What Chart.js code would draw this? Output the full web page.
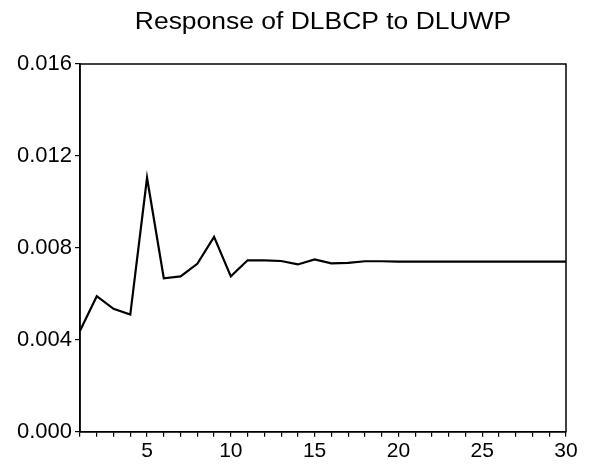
<!DOCTYPE html>
<html>
<head>
<meta charset="utf-8">
<script src="https://cdn.jsdelivr.net/npm/chart.js@4/dist/chart.umd.min.js"></script>
<style>
  html, body { margin: 0; padding: 0; background: #ffffff; }
  #wrap { width: 590px; height: 468px; }
</style>
</head>
<body>
<div id="wrap"><canvas id="c" width="590" height="468"></canvas></div>
<script>
// Impulse response of DLBCP to a shock in DLUWP, periods 1..30
const periods = [1,2,3,4,5,6,7,8,9,10,11,12,13,14,15,16,17,18,19,20,21,22,23,24,25,26,27,28,29,30];
const response = [0.0044, 0.0059, 0.00535, 0.0051, 0.01105, 0.00668, 0.00676, 0.00731, 0.00848, 0.00676,
                  0.00746, 0.00746, 0.00743, 0.00728, 0.0075, 0.00733, 0.00735, 0.00742, 0.00742, 0.0074,
                  0.0074, 0.0074, 0.0074, 0.0074, 0.0074, 0.0074, 0.0074, 0.0074, 0.0074, 0.0074];
const xLabels = [5, 10, 15, 20, 25, 30];
const yTicks = [0.000, 0.004, 0.008, 0.012, 0.016];
const titleText = 'Response of DLBCP to DLUWP';

const FONT = "'Liberation Sans', Arial, sans-serif";

// Frame around the plotting area and a title centred over it
const frame = {
  id: 'frame',
  afterDatasetsDraw(chart) {
    const { ctx, chartArea: a } = chart;
    ctx.save();
    ctx.strokeStyle = '#000';
    ctx.lineWidth = 1.5;
    ctx.strokeRect(a.left, a.top, a.right - a.left, a.bottom - a.top);

    ctx.fillStyle = '#000';
    ctx.font = '23px ' + FONT;
    ctx.textAlign = 'center';
    ctx.textBaseline = 'alphabetic';
    ctx.translate((a.left + a.right) / 2, 29);
    ctx.scale(1.15, 1);
    ctx.fillText(titleText, 0, 0);
    ctx.restore();
  }
};

new Chart(document.getElementById('c'), {
  type: 'line',
  data: {
    datasets: [{
      data: periods.map((p, i) => ({ x: p, y: response[i] })),
      borderColor: '#000',
      borderWidth: 2.2,
      pointRadius: 0,
      tension: 0,
      fill: false
    }]
  },
  options: {
    responsive: false,
    animation: false,
    devicePixelRatio: 1,
    layout: { padding: { left: 0, right: 24, top: 64, bottom: 2 } },
    plugins: {
      legend: { display: false },
      tooltip: { enabled: false },
      title: { display: false }
    },
    scales: {
      x: {
        type: 'linear',
        min: 1,
        max: 30,
        afterBuildTicks(scale) {
          scale.ticks = periods.map(v => ({ value: v }));
        },
        ticks: {
          autoSkip: false,
          maxRotation: 0,
          color: '#000',
          font: { family: FONT, size: 21 },
          padding: 2,
          callback: v => (xLabels.includes(v) ? String(v) : '')
        },
        grid: { drawOnChartArea: false, drawTicks: true, tickLength: 5, color: '#000', lineWidth: 1.2 },
        border: { display: true, color: '#000', width: 1.5 }
      },
      y: {
        min: 0,
        max: 0.016,
        afterBuildTicks(scale) {
          scale.ticks = yTicks.map(v => ({ value: v }));
        },
        afterFit(scale) { scale.width = 80; },
        ticks: {
          color: '#000',
          font: { family: FONT, size: 22 },
          padding: 3,
          callback: v => v.toFixed(3)
        },
        grid: { drawOnChartArea: false, drawTicks: true, tickLength: 5, color: '#000', lineWidth: 1.2 },
        border: { display: true, color: '#000', width: 1.5 }
      }
    }
  },
  plugins: [frame]
});
</script>
</body>
</html>
